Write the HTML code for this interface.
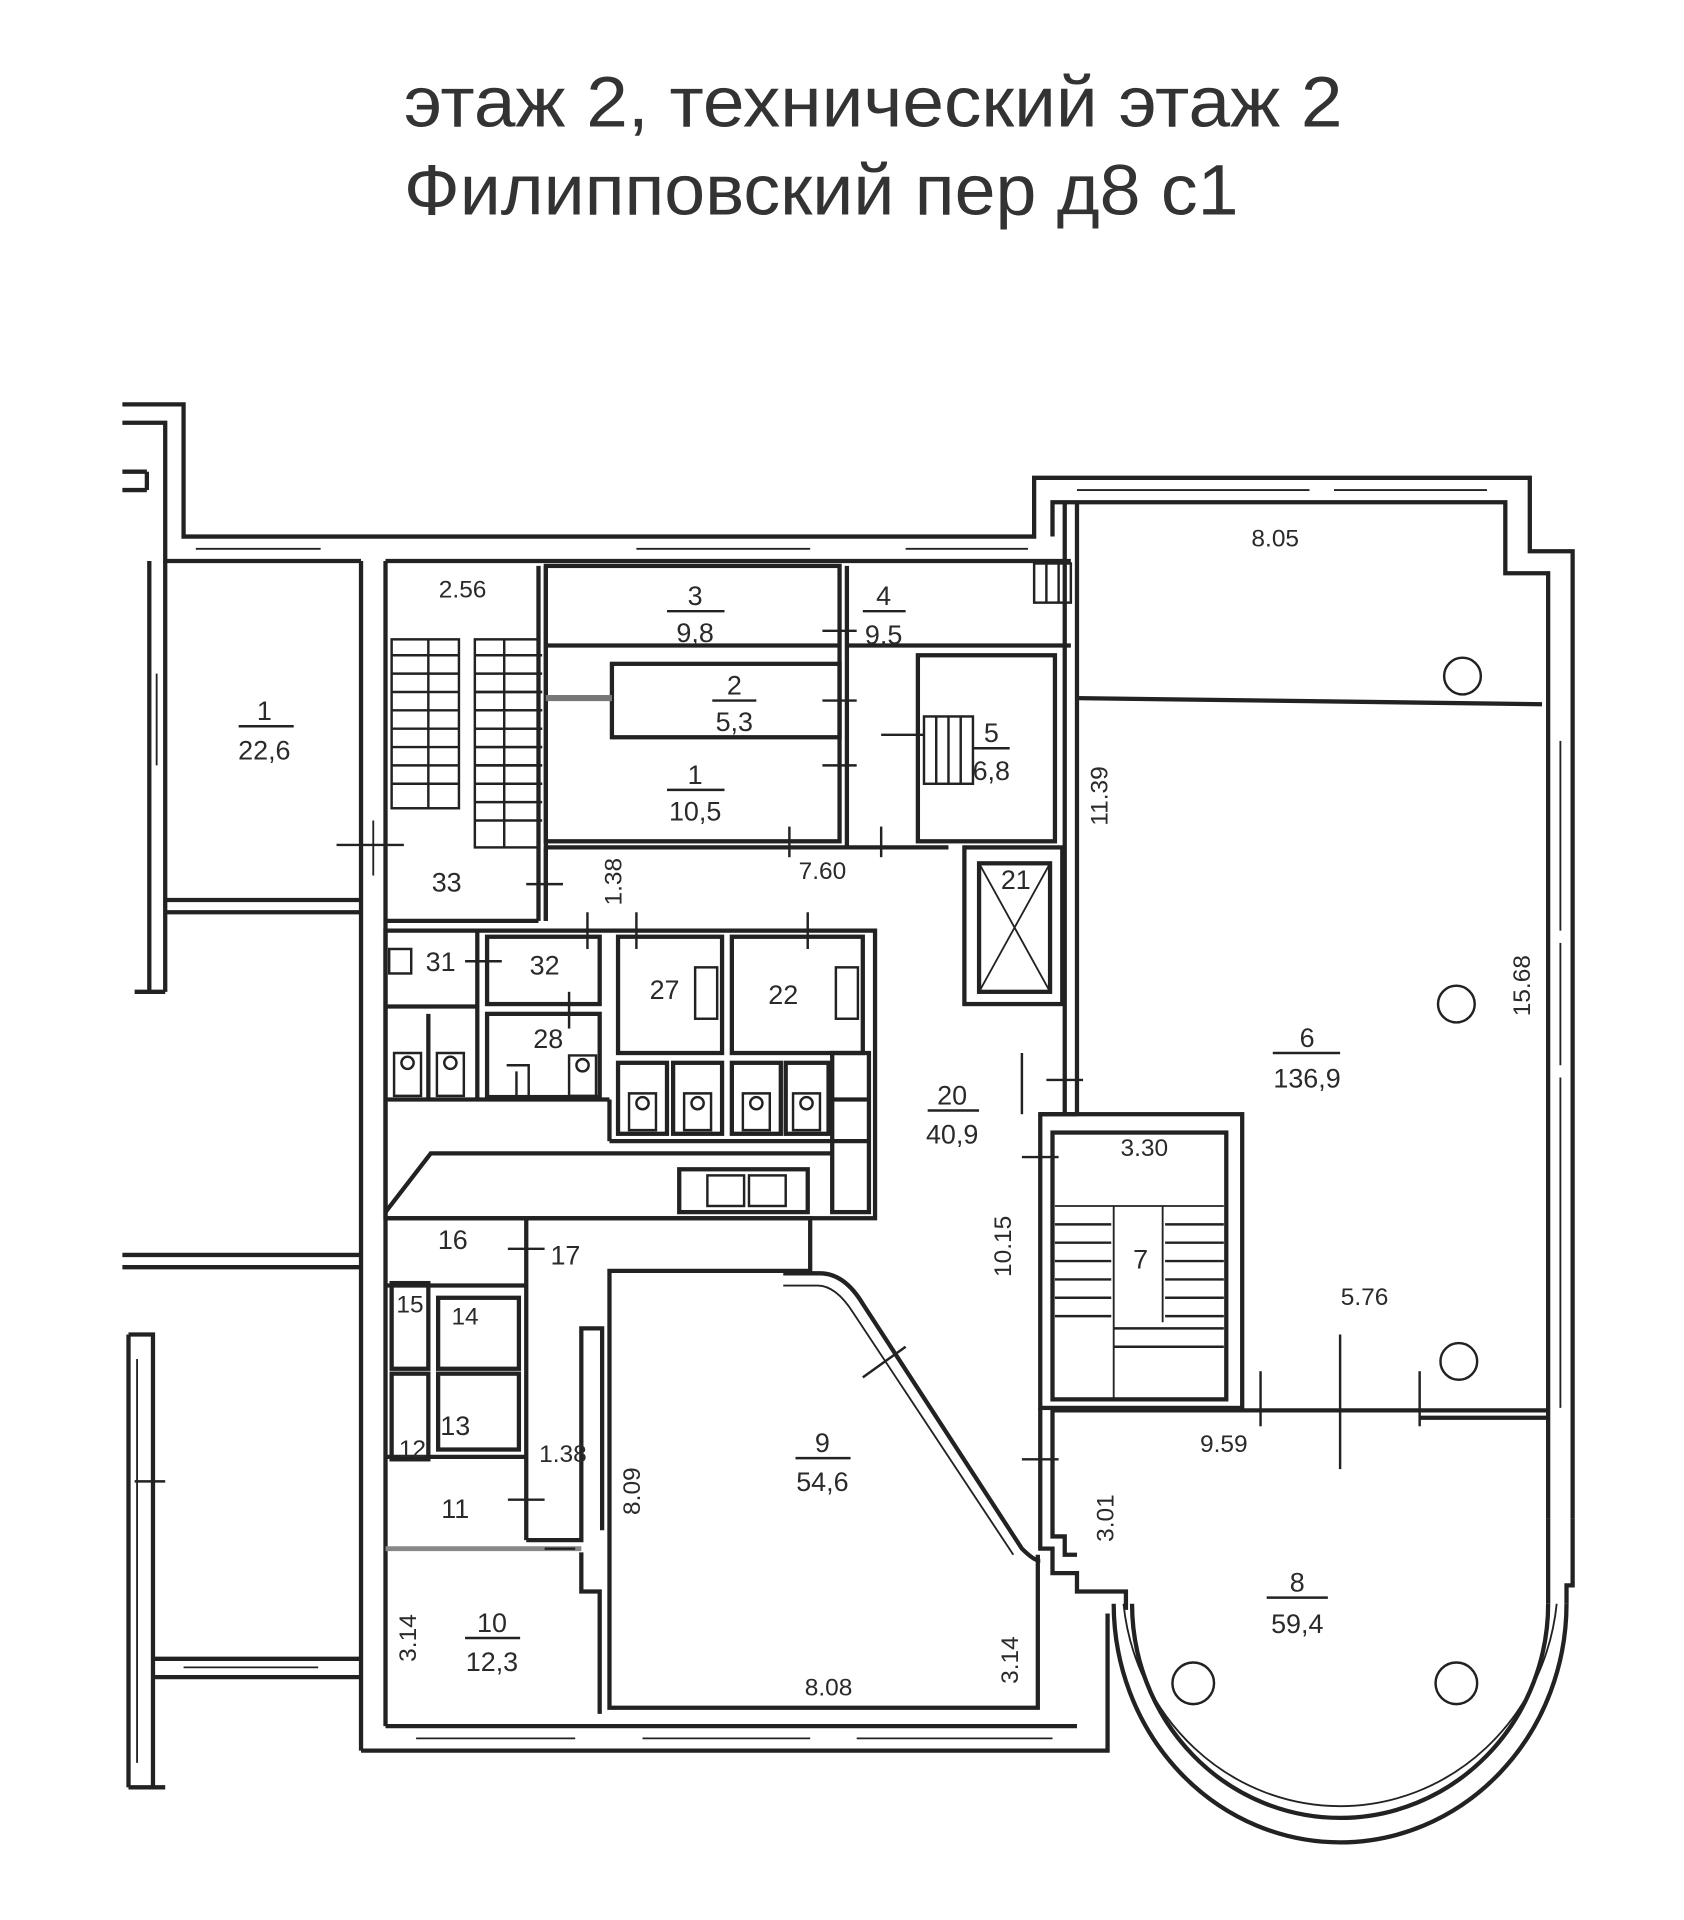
<!DOCTYPE html>
<html><head><meta charset="utf-8"><style>
html,body{margin:0;padding:0;background:#fff;}
svg{display:block;}
text{font-family:"Liberation Sans",sans-serif;fill:#2a2a2a;}
</style></head><body>
<svg width="1684" height="1920" viewBox="0 0 1376 1568" xmlns="http://www.w3.org/2000/svg">
<rect width="1376" height="1568" fill="#fff"/>
<text x="330" y="103" font-size="58" textLength="767" lengthAdjust="spacingAndGlyphs" style="fill:#333">этаж 2, технический этаж 2</text>
<text x="330" y="175" font-size="58" textLength="682" lengthAdjust="spacingAndGlyphs" style="fill:#333">Филипповский пер д8 с1</text>

<g fill="none" stroke="#222" stroke-width="3.5">
<polyline points="100,330 150,330 150,438 845,438 845,390 1250,390 1250,450 1285,450 1285,1240"/>
<polyline points="100,345 135,345 135,458 295,458"/>
<line x1="100" y1="385" x2="120" y2="385"/><line x1="100" y1="400" x2="120" y2="400"/><line x1="120" y1="385" x2="120" y2="400"/>
<polyline points="315,458 875,458"/>
<polyline points="860,438 860,410 1230,410 1230,468 1265,468 1265,1240"/>
<line x1="122" y1="458" x2="122" y2="810"/><line x1="135" y1="458" x2="135" y2="810"/>
<line x1="135" y1="735" x2="295" y2="735"/><line x1="135" y1="745" x2="295" y2="745"/>
<line x1="110" y1="810" x2="135" y2="810"/>
<line x1="295" y1="458" x2="295" y2="1430"/><line x1="315" y1="458" x2="315" y2="1410"/>
<line x1="100" y1="1025" x2="295" y2="1025"/><line x1="100" y1="1035" x2="295" y2="1035"/>
<polyline points="105,1090 125,1090 125,1460"/><line x1="105" y1="1090" x2="105" y2="1460"/>
<line x1="125" y1="1355" x2="295" y2="1355"/><line x1="125" y1="1370" x2="295" y2="1370"/>
<line x1="105" y1="1460" x2="135" y2="1460"/>
<polyline points="295,1430 905,1430 905,1318"/>
<line x1="315" y1="1410" x2="880" y2="1410"/>
<line x1="870" y1="410" x2="870" y2="910"/><line x1="880" y1="410" x2="880" y2="910"/>
<line x1="880" y1="570" x2="1260" y2="575"/>
<polyline points="850,1150 850,1265 860,1265 860,1285 880,1285 880,1300 920,1300 920,1315"/>
<polyline points="860,1150 860,1255 870,1255 870,1270 880,1270"/>
<line x1="860" y1="1152" x2="1265" y2="1152"/>
<line x1="1160" y1="1158" x2="1265" y2="1158"/>
<path d="M925,1310 A170,175 0 0 0 1265,1310"/>
<path d="M910,1310 A185,195 0 0 0 1280,1310"/>
<path d="M918,1310 A178,185 0 0 0 1272,1310" stroke-width="1.5"/>
<polyline points="1265,1240 1265,1310"/><polyline points="1285,1240 1285,1295 1280,1295 1280,1310"/>
<line x1="440" y1="462" x2="440" y2="752"/><line x1="446" y1="462" x2="446" y2="752"/>
<line x1="315" y1="752" x2="440" y2="752"/>
<rect x="446" y="462" width="240" height="225"/>
<line x1="446" y1="527" x2="686" y2="527"/>
<rect x="500" y="542" width="186" height="60"/>
<line x1="446" y1="570" x2="500" y2="570" stroke-width="5" stroke="#777"/>
<line x1="692" y1="462" x2="692" y2="692"/>
<line x1="692" y1="527" x2="875" y2="527"/>
<rect x="750" y="535" width="112" height="152"/>
<line x1="446" y1="692" x2="775" y2="692"/>
<line x1="446" y1="692" x2="446" y2="752"/>
<rect x="788" y="692" width="80" height="128"/><rect x="800" y="705" width="58" height="105"/>
<line x1="800" y1="705" x2="858" y2="810" stroke-width="1.5"/><line x1="858" y1="705" x2="800" y2="810" stroke-width="1.5"/>
<rect x="315" y="760" width="400" height="235"/>
<rect x="398" y="765" width="92" height="55"/>
<rect x="398" y="828" width="92" height="68"/>
<rect x="505" y="765" width="85" height="95"/>
<rect x="598" y="765" width="107" height="95"/>
<line x1="315" y1="822" x2="390" y2="822"/><line x1="390" y1="760" x2="390" y2="898"/>
<line x1="315" y1="898" x2="498" y2="898"/>
<line x1="350" y1="828" x2="350" y2="898"/>
<rect x="505" y="868" width="40" height="58"/><rect x="550" y="868" width="40" height="58"/>
<rect x="598" y="868" width="40" height="58"/><rect x="642" y="868" width="35" height="58"/>
<line x1="498" y1="898" x2="498" y2="932"/><line x1="498" y1="932" x2="680" y2="932"/>
<polyline points="315,990 352,942 680,942"/>
<rect x="555" y="955" width="105" height="35"/>
<rect x="680" y="860" width="30" height="130"/>
<line x1="680" y1="898" x2="710" y2="898"/><line x1="680" y1="932" x2="710" y2="932"/>
<polyline points="315,995 662,995 662,1038 498,1038 498,1395 848,1395 848,1270"/>
<path d="M640,1040 L670,1040 Q690,1040 705,1065 L835,1265 Q845,1275 850,1275" />
<path d="M640,1050 L668,1050 Q683,1050 697,1072 L828,1270" stroke-width="1.5"/>
<line x1="430" y1="995" x2="430" y2="1258"/>
<line x1="315" y1="1050" x2="430" y2="1050"/>
<line x1="315" y1="1190" x2="430" y2="1190"/>
<rect x="320" y="1048" width="30" height="70"/><rect x="320" y="1122" width="30" height="70"/>
<rect x="358" y="1060" width="66" height="58"/><rect x="358" y="1122" width="66" height="62"/>
<polyline points="430,1258 475,1258 475,1085 492,1085 492,1250"/>
<line x1="315" y1="1265" x2="475" y2="1265" stroke="#888" stroke-width="4"/>
<polyline points="475,1268 475,1300 490,1300 490,1400"/>
<rect x="850" y="910" width="165" height="240"/>
<rect x="860" y="925" width="142" height="218"/>
<line x1="850" y1="910" x2="880" y2="910"/>
<line x1="862" y1="985" x2="1000" y2="985" stroke-width="1.5"/>
<line x1="910" y1="985" x2="910" y2="1143" stroke-width="1.5"/><line x1="950" y1="985" x2="950" y2="1080" stroke-width="1.5"/>
</g>
<g stroke="#222" stroke-width="2" fill="none">
<rect x="320" y="522" width="55" height="138"/>
<rect x="388" y="522" width="52" height="170"/>
<line x1="350" y1="522" x2="350" y2="660"/><line x1="412" y1="522" x2="412" y2="692"/>
<g id="tr"><line x1="320" y1="535" x2="375" y2="535"/><line x1="320" y1="550" x2="375" y2="550"/><line x1="320" y1="565" x2="375" y2="565"/><line x1="320" y1="580" x2="375" y2="580"/><line x1="320" y1="595" x2="375" y2="595"/><line x1="320" y1="610" x2="375" y2="610"/><line x1="320" y1="625" x2="375" y2="625"/><line x1="320" y1="640" x2="375" y2="640"/></g>
<use href="#tr" x="68"/><use href="#tr" x="68" y="30"/>
<line x1="862" y1="1000" x2="908" y2="1000"/><line x1="862" y1="1015" x2="908" y2="1015"/><line x1="862" y1="1030" x2="908" y2="1030"/><line x1="862" y1="1045" x2="908" y2="1045"/><line x1="862" y1="1060" x2="908" y2="1060"/><line x1="862" y1="1075" x2="908" y2="1075"/>
<line x1="952" y1="1000" x2="1000" y2="1000"/><line x1="952" y1="1015" x2="1000" y2="1015"/><line x1="952" y1="1030" x2="1000" y2="1030"/><line x1="952" y1="1045" x2="1000" y2="1045"/><line x1="952" y1="1060" x2="1000" y2="1060"/><line x1="952" y1="1075" x2="1000" y2="1075"/>
<line x1="910" y1="1085" x2="1000" y2="1085"/><line x1="910" y1="1100" x2="1000" y2="1100"/>
<rect x="755" y="585" width="40" height="55"/>
<line x1="765" y1="585" x2="765" y2="640"/><line x1="775" y1="585" x2="775" y2="640"/><line x1="785" y1="585" x2="785" y2="640"/>
<rect x="845" y="460" width="30" height="32"/>
<line x1="855" y1="460" x2="855" y2="492"/><line x1="865" y1="460" x2="865" y2="492"/>
<!-- toilets -->
<path d="M322,860 h22 v35 h-22 z M328,868 a5,5 0 1 0 10,0 a5,5 0 1 0 -10,0"/>
<path d="M357,860 h22 v35 h-22 z M363,868 a5,5 0 1 0 10,0 a5,5 0 1 0 -10,0"/>
<path d="M465,862 h22 v33 h-22 z M471,870 a5,5 0 1 0 10,0 a5,5 0 1 0 -10,0"/>
<path d="M414,870 h18 v25 M422,875 v20"/>
<path d="M514,893 h22 v30 h-22 z M520,901 a5,5 0 1 0 10,0 a5,5 0 1 0 -10,0"/>
<path d="M559,893 h22 v30 h-22 z M565,901 a5,5 0 1 0 10,0 a5,5 0 1 0 -10,0"/>
<path d="M607,893 h22 v30 h-22 z M613,901 a5,5 0 1 0 10,0 a5,5 0 1 0 -10,0"/>
<path d="M648,893 h22 v30 h-22 z M654,901 a5,5 0 1 0 10,0 a5,5 0 1 0 -10,0"/>
<rect x="318" y="775" width="18" height="20"/>
<rect x="568" y="790" width="18" height="42"/><rect x="683" y="790" width="18" height="42"/>
<rect x="578" y="960" width="30" height="25"/><rect x="612" y="960" width="30" height="25"/>
</g>
<g stroke="#222" stroke-width="1.5">
<line x1="160" y1="448" x2="262" y2="448"/><line x1="520" y1="448" x2="662" y2="448"/><line x1="740" y1="448" x2="840" y2="448"/>
<line x1="880" y1="400" x2="1070" y2="400"/><line x1="1090" y1="400" x2="1215" y2="400"/>
<line x1="1275" y1="605" x2="1275" y2="760"/><line x1="1275" y1="770" x2="1275" y2="870"/><line x1="1275" y1="880" x2="1275" y2="1150"/>
<line x1="340" y1="1420" x2="470" y2="1420"/><line x1="525" y1="1420" x2="662" y2="1420"/><line x1="700" y1="1420" x2="860" y2="1420"/>
<line x1="150" y1="1362" x2="260" y2="1362"/>
<line x1="128" y1="550" x2="128" y2="625"/><line x1="112" y1="1110" x2="112" y2="1440"/>
<line x1="305" y1="670" x2="305" y2="715"/>
</g>
<g stroke="#222" stroke-width="2">
<line x1="275" y1="690" x2="330" y2="690"/><line x1="430" y1="722" x2="460" y2="722"/>
<line x1="672" y1="515" x2="700" y2="515"/><line x1="672" y1="572" x2="700" y2="572"/><line x1="672" y1="625" x2="700" y2="625"/>
<line x1="645" y1="675" x2="645" y2="700"/><line x1="720" y1="675" x2="720" y2="700"/>
<line x1="720" y1="600" x2="755" y2="600"/>
<line x1="835" y1="860" x2="835" y2="910"/><line x1="855" y1="882" x2="885" y2="882"/><line x1="835" y1="945" x2="865" y2="945"/>
<line x1="835" y1="1192" x2="865" y2="1192"/>
<line x1="1030" y1="1120" x2="1030" y2="1165"/><line x1="1095" y1="1090" x2="1095" y2="1200"/><line x1="1160" y1="1120" x2="1160" y2="1165"/>
<line x1="705" y1="1125" x2="740" y2="1100"/>
<line x1="415" y1="1020" x2="445" y2="1020"/><line x1="415" y1="1225" x2="445" y2="1225"/><line x1="445" y1="1265" x2="470" y2="1265"/>
<line x1="380" y1="785" x2="410" y2="785"/><line x1="480" y1="745" x2="480" y2="775"/><line x1="465" y1="810" x2="465" y2="840"/>
<line x1="520" y1="745" x2="520" y2="775"/><line x1="660" y1="745" x2="660" y2="775"/>
<line x1="110" y1="1210" x2="135" y2="1210"/>
</g>
<g fill="none" stroke="#222" stroke-width="2">
<circle cx="1195" cy="552" r="15"/><circle cx="1190" cy="820" r="15"/><circle cx="1192" cy="1112" r="15"/>
<circle cx="975" cy="1375" r="17"/><circle cx="1190" cy="1375" r="17"/>
</g>
<g font-size="22">
<text x="216" y="588" text-anchor="middle">1</text><line x1="195" y1="593" x2="240" y2="593" stroke="#222" stroke-width="2"/><text x="216" y="620" text-anchor="middle">22,6</text>
<text x="378" y="488" text-anchor="middle" font-size="20">2.56</text>
<text x="568" y="494" text-anchor="middle">3</text><line x1="545" y1="499" x2="592" y2="499" stroke="#222" stroke-width="2"/><text x="568" y="524" text-anchor="middle">9,8</text>
<text x="722" y="494" text-anchor="middle">4</text><line x1="705" y1="499" x2="740" y2="499" stroke="#222" stroke-width="2"/><text x="722" y="526" text-anchor="middle">9,5</text>
<text x="600" y="567" text-anchor="middle">2</text><line x1="582" y1="572" x2="618" y2="572" stroke="#222" stroke-width="2"/><text x="600" y="597" text-anchor="middle">5,3</text>
<text x="568" y="640" text-anchor="middle">1</text><line x1="545" y1="645" x2="592" y2="645" stroke="#222" stroke-width="2"/><text x="568" y="670" text-anchor="middle">10,5</text>
<text x="810" y="606" text-anchor="middle">5</text><line x1="795" y1="611" x2="825" y2="611" stroke="#222" stroke-width="2"/><text x="810" y="637" text-anchor="middle">6,8</text>
<text x="672" y="718" text-anchor="middle" font-size="20">7.60</text>
<text x="365" y="728" text-anchor="middle">33</text>
<text x="830" y="726" text-anchor="middle">21</text>
<text x="360" y="793" text-anchor="middle">31</text><text x="445" y="796" text-anchor="middle">32</text>
<text x="543" y="816" text-anchor="middle">27</text><text x="640" y="820" text-anchor="middle">22</text>
<text x="448" y="856" text-anchor="middle">28</text>
<text x="778" y="902" text-anchor="middle">20</text><line x1="758" y1="907" x2="800" y2="907" stroke="#222" stroke-width="2"/><text x="778" y="934" text-anchor="middle">40,9</text>
<text x="1068" y="855" text-anchor="middle">6</text><line x1="1040" y1="860" x2="1095" y2="860" stroke="#222" stroke-width="2"/><text x="1068" y="888" text-anchor="middle">136,9</text>
<text x="1042" y="446" text-anchor="middle" font-size="20">8.05</text>
<text x="935" y="944" text-anchor="middle" font-size="20">3.30</text>
<text x="932" y="1036" text-anchor="middle">7</text>
<text x="1115" y="1066" text-anchor="middle" font-size="20">5.76</text>
<text x="1000" y="1186" text-anchor="middle" font-size="20">9.59</text>
<text x="1060" y="1300" text-anchor="middle">8</text><line x1="1035" y1="1305" x2="1085" y2="1305" stroke="#222" stroke-width="2"/><text x="1060" y="1334" text-anchor="middle">59,4</text>
<text x="370" y="1020" text-anchor="middle">16</text><text x="462" y="1033" text-anchor="middle">17</text>
<text x="335" y="1072" text-anchor="middle" font-size="20">15</text><text x="380" y="1082" text-anchor="middle" font-size="20">14</text>
<text x="372" y="1172" text-anchor="middle">13</text><text x="337" y="1190" text-anchor="middle" font-size="20">12</text>
<text x="372" y="1240" text-anchor="middle">11</text>
<text x="460" y="1194" text-anchor="middle" font-size="20">1.38</text>
<text x="672" y="1186" text-anchor="middle">9</text><line x1="650" y1="1191" x2="695" y2="1191" stroke="#222" stroke-width="2"/><text x="672" y="1218" text-anchor="middle">54,6</text>
<text x="402" y="1333" text-anchor="middle">10</text><line x1="380" y1="1338" x2="425" y2="1338" stroke="#222" stroke-width="2"/><text x="402" y="1365" text-anchor="middle">12,3</text>
<text x="677" y="1385" text-anchor="middle" font-size="20">8.08</text>
</g>
<g font-size="20">
<text transform="translate(508,720) rotate(-90)" text-anchor="middle">1.38</text>
<text transform="translate(905,650) rotate(-90)" text-anchor="middle">11.39</text>
<text transform="translate(1250,805) rotate(-90)" text-anchor="middle">15.68</text>
<text transform="translate(826,1018) rotate(-90)" text-anchor="middle">10.15</text>
<text transform="translate(523,1218) rotate(-90)" text-anchor="middle">8.09</text>
<text transform="translate(910,1240) rotate(-90)" text-anchor="middle">3.01</text>
<text transform="translate(340,1338) rotate(-90)" text-anchor="middle">3.14</text>
<text transform="translate(832,1356) rotate(-90)" text-anchor="middle">3.14</text>
</g>
</svg>
</body></html>
